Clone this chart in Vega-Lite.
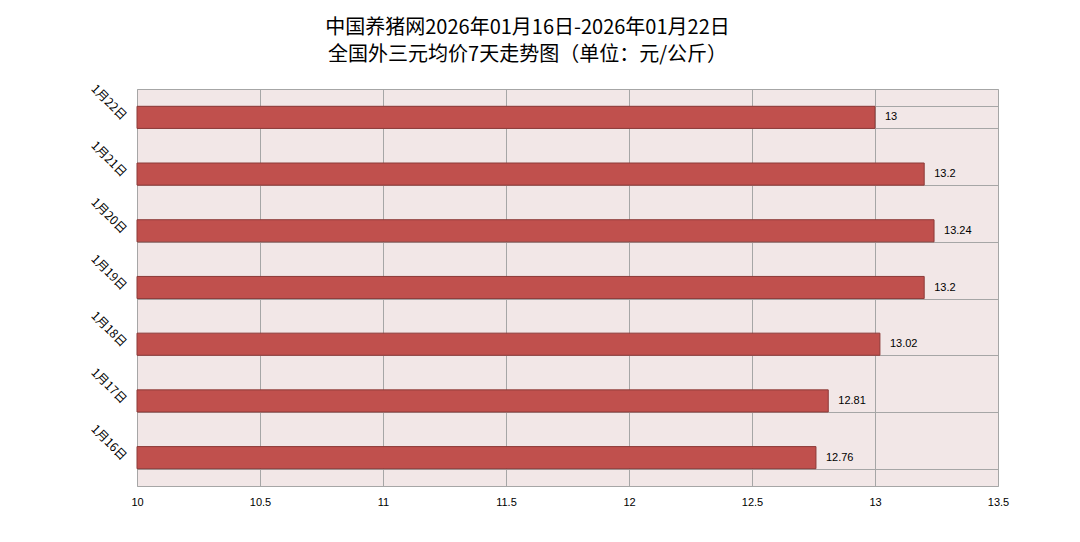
{
  "$schema": "https://vega.github.io/schema/vega-lite/v6.json",
  "width": 861,
  "height": 397,
  "autosize": {"type": "none"},
  "padding": {"left": 137, "top": 89, "right": 82, "bottom": 56},
  "background": "#ffffff",
  "title": {
    "text": ["中国养猪网2026年01月16日-2026年01月22日", "全国外三元均价7天走势图（单位：元/公斤）"],
    "anchor": "middle",
    "dx": -40,
    "offset": 17,
    "font": "Noto Sans CJK SC",
    "fontSize": 20,
    "fontWeight": "normal",
    "lineHeight": 27,
    "color": "#000000"
  },
  "config": {
    "view": {"fill": "#F2E7E7", "stroke": "#A6A6A6", "strokeWidth": 1},
    "font": "Noto Sans CJK SC"
  },
  "data": {
    "values": [
      {"date": "1月16日", "price": 12.76},
      {"date": "1月17日", "price": 12.81},
      {"date": "1月18日", "price": 13.02},
      {"date": "1月19日", "price": 13.2},
      {"date": "1月20日", "price": 13.24},
      {"date": "1月21日", "price": 13.2},
      {"date": "1月22日", "price": 13}
    ]
  },
  "encoding": {
    "y": {
      "field": "date",
      "type": "nominal",
      "sort": ["1月22日", "1月21日", "1月20日", "1月19日", "1月18日", "1月17日", "1月16日"],
      "scale": {"paddingInner": 0.61, "paddingOuter": 0.305},
      "axis": {
        "title": null,
        "labelAngle": 45,
        "labelAlign": "right",
        "labelBaseline": "middle",
        "labelFontSize": 12,
        "labelColor": "#000000",
        "labelPadding": 13,
        "ticks": false,
        "domain": false,
        "grid": true,
        "tickBand": "extent",
        "gridColor": "#A6A6A6",
        "gridWidth": 1,
        "gridOpacity": 1
      }
    },
    "x": {
      "field": "price",
      "type": "quantitative",
      "scale": {"domain": [10, 13.5], "zero": false, "nice": false},
      "axis": {
        "title": null,
        "values": [10, 10.5, 11, 11.5, 12, 12.5, 13, 13.5],
        "format": "~g",
        "labelFontSize": 11,
        "labelColor": "#000000",
        "labelPadding": 10,
        "labelFlush": false,
        "labelFont": "Liberation Sans",
        "ticks": false,
        "domain": false,
        "grid": true,
        "gridColor": "#A6A6A6",
        "gridWidth": 1,
        "gridOpacity": 1
      }
    }
  },
  "layer": [
    {
      "mark": {"type": "bar", "color": "#C0504D", "stroke": "#8C3A38", "strokeWidth": 1},
      "encoding": {"x2": {"datum": 10}}
    },
    {
      "mark": {"type": "text", "align": "left", "baseline": "middle", "dx": 10, "fontSize": 11, "color": "#000000", "font": "Liberation Sans"},
      "encoding": {"text": {"field": "price", "type": "quantitative", "format": "~g"}}
    }
  ]
}
